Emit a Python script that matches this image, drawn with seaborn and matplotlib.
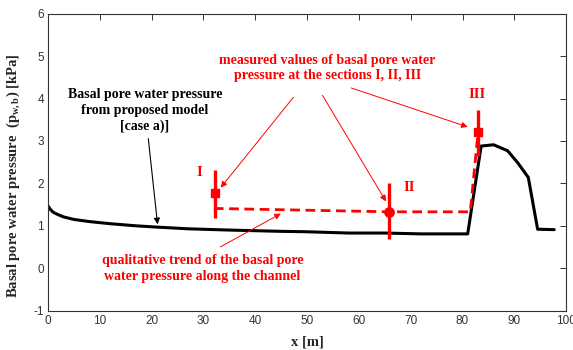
import matplotlib
matplotlib.use("Agg")
import matplotlib.pyplot as plt
import seaborn as sns
import pandas as pd

# model curve (case a)
model_x = [0, 0.5, 1, 2, 3, 5, 8, 12, 17, 21, 27, 35, 45, 50, 58, 65, 72, 80, 81, 83.6, 86.0, 88.7, 90.7, 92.7, 94.5, 97.7]
model_y = [1.47, 1.38, 1.32, 1.26, 1.21, 1.15, 1.10, 1.05, 1.00, 0.97, 0.93, 0.90, 0.87, 0.86, 0.83, 0.83, 0.81, 0.81, 0.81, 2.88, 2.91, 2.77, 2.48, 2.14, 0.92, 0.91]

# qualitative trend (dashed)
trend_x = [32, 66, 81.5, 83]
trend_y = [1.41, 1.33, 1.33, 3.2]

# measured values at sections
sec_labels = ["I", "II", "III"]
sec_x = [32.2, 65.8, 83.0]
sec_y = [1.77, 1.33, 3.22]
sec_lo = [1.18, 0.68, 2.65]
sec_hi = [2.32, 2.00, 3.73]

xticks = [0, 10, 20, 30, 40, 50, 60, 70, 80, 90, 100]
yticks = [-1, 0, 1, 2, 3, 4, 5, 6]

sns.set_style("white")
plt.rcParams["font.family"] = ["Liberation Serif", "DejaVu Serif"]
plt.rcParams["mathtext.fontset"] = "custom"
plt.rcParams["mathtext.rm"] = "Liberation Serif:bold"
plt.rcParams["mathtext.it"] = "Liberation Serif:bold"
plt.rcParams["mathtext.bf"] = "Liberation Serif:bold"

fig = plt.figure(figsize=(5.73, 3.5), dpi=100)
ax = fig.add_axes([0.0838, 0.1123, 0.9042, 0.8487])

red = "#ff0000"

df_model = pd.DataFrame({"x": model_x, "y": model_y})
sns.lineplot(data=df_model, x="x", y="y", ax=ax, color="black", lw=2.2, sort=False)

df_trend = pd.DataFrame({"x": trend_x, "y": trend_y})
sns.lineplot(data=df_trend, x="x", y="y", ax=ax, color=red, lw=2.0, sort=False,
             linestyle=(0, (3.5, 2)))

for sx, sy, lo, hi in zip(sec_x, sec_y, sec_lo, sec_hi):
    ax.plot([sx, sx], [lo, hi], color=red, lw=2.4, solid_capstyle="butt")
ax.scatter(sec_x[:1] + sec_x[2:], sec_y[:1] + sec_y[2:], marker="s", s=38, color=red, zorder=5)
ax.scatter(sec_x[1:2], sec_y[1:2], marker="o", s=45, color=red, zorder=5)

label_pos = [(29.3, 2.25), (69.8, 1.91), (82.8, 4.10)]
for lab, (lx, ly) in zip(sec_labels, label_pos):
    ax.text(lx, ly, lab, color=red, fontsize=10.5, fontweight="bold", ha="center", va="center")

tfont = dict(fontsize=10, fontweight="bold", ha="center", va="center")
ax.text(18.7, 3.72, "Basal pore water pressure\nfrom proposed model\n[case a)]",
        color="black", linespacing=1.25, **tfont)
ax.annotate("", xy=(21.2, 0.97), xytext=(19.3, 3.12),
            arrowprops=dict(arrowstyle="-|>", color="black", lw=0.8, mutation_scale=9))

ax.text(53.9, 4.72, "measured values of basal pore water\npressure at the sections I, II, III",
        color=red, linespacing=1.25, **tfont)
arrow_red = dict(arrowstyle="-|>", color=red, lw=0.7, mutation_scale=9)
ax.annotate("", xy=(33.0, 1.85), xytext=(47.7, 4.08), arrowprops=arrow_red)
ax.annotate("", xy=(65.5, 1.52), xytext=(52.7, 4.13), arrowprops=arrow_red)
ax.annotate("", xy=(81.5, 3.31), xytext=(58.0, 4.27), arrowprops=arrow_red)

ax.text(29.8, 0.0, "qualitative trend of the basal pore\nwater pressure along the channel",
        color=red, linespacing=1.25, **tfont)
ax.annotate("", xy=(45.4, 1.32), xytext=(32.8, 0.47), arrowprops=arrow_red)

ax.set_xlim(0, 100)
ax.set_ylim(-1, 6)
ax.set_xticks(xticks)
ax.set_yticks(yticks)
ax.set_xticklabels([str(t) for t in xticks], fontfamily="Liberation Sans", fontsize=8.5, color="#333333")
ax.set_yticklabels([str(t) for t in yticks], fontfamily="Liberation Sans", fontsize=8.5, color="#333333")
ax.tick_params(direction="in", length=4, width=0.7, top=True, right=True, color="#333333", pad=3)
for sp in ax.spines.values():
    sp.set_color("#333333")
    sp.set_linewidth(0.8)

ax.set_xlabel("x [m]", fontsize=10.5, fontweight="bold")
ax.xaxis.set_label_coords(0.5, -0.085)
ax.set_ylabel(r"Basal pore water pressure  (p$_{\mathbf{w,b}}$) [kPa]", fontsize=10.5, fontweight="bold")
ax.yaxis.set_label_coords(-0.05, 0.455)

fig.savefig("out.png", dpi=100)
